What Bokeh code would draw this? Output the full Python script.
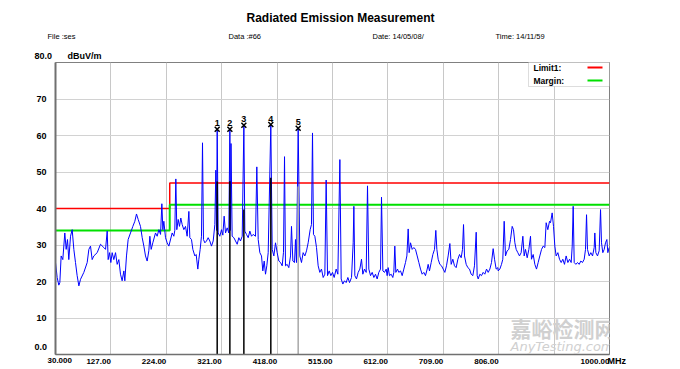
from bokeh.plotting import figure
from bokeh.models import Range1d, FixedTicker, Label, BoxAnnotation, ColumnDataSource
from bokeh.embed import file_html
from bokeh.resources import INLINE
from bokeh.core.properties import value

# ---------------- data ----------------
title_text = "Radiated Emission Measurement"
header_texts = ["File :ses", "Data :#66", "Date: 14/05/08/", "Time: 14/11/59"]
y_unit = "dBuV/m"
x_unit = "MHz"

x_ticks = [30, 127, 224, 321, 418, 515, 612, 709, 806, 903, 1000]
x_tick_labels = ["", "127.00", "224.00", "321.00", "418.00", "515.00",
                 "612.00", "709.00", "806.00", "", "1000.00"]
x_first_label = "30.000"
y_ticks = [10, 20, 30, 40, 50, 60, 70]
y_tick_labels = ["10", "20", "30", "40", "50", "60", "70"]
y_bottom_label = "0.0"
y_top_label = "80.0"

freq = [
    30.0, 32.9, 35.8, 37.6, 39.9, 42.8, 46.3, 48.7, 51.0, 53.3, 56.3, 59.2, 62.1, 65.0, 67.9,
    70.9, 73.8, 79.6, 85.5, 88.4, 91.3, 94.2, 97.1, 103.0, 108.8, 114.6, 117.6, 120.5, 122.2,
    124.6, 126.9, 129.2, 132.1, 135.1, 138.0, 140.9, 143.8, 146.7, 149.7, 151.4, 154.3, 157.2,
    161.3, 165.4, 168.9, 171.8, 174.8, 178.8, 181.8, 184.7, 187.6, 190.5, 193.4, 195.2, 197.5,
    200.4, 205.1, 208.0, 211.0, 213.9, 216.2, 218.0, 219.7, 222.6, 225.5, 228.5,
    234.3, 237.2, 238.9, 240.7, 242.4, 244.8, 247.1, 249.4, 251.8, 254.7, 257.6, 260.5, 263.5,
    265.2, 268.1, 270.5, 274.0, 276.3, 279.2, 281.0, 283.3, 285.6, 287.4, 289.1, 291.5, 294.4,
    297.3, 300.2, 303.1, 306.1, 309.0, 310.7, 311.9, 313.1, 314.8, 317.7, 320.7, 323.0, 325.3,
    327.7, 330.6, 333.5, 335.3, 336.4, 337.3, 339.3, 342.3, 345.2, 348.1, 351.0, 353.9, 356.9,
    359.8, 361.5, 364.4, 367.4, 370.3, 373.2, 376.1, 380.2, 382.5, 384.9, 387.8, 390.7, 393.0,
    395.4, 397.7, 400.0, 402.4, 407.0, 409.4, 412.3, 415.2, 418.1, 421.1,
    424.0, 426.9, 429.2, 431.0, 432.7, 435.6, 438.5, 441.5, 443.2, 445.6, 448.5, 450.2, 452.0,
    454.9, 457.8, 460.7, 463.6, 466.6, 469.5, 472.4, 475.9, 478.2, 480.0, 481.7, 484.1, 487.0,
    489.9, 492.8, 495.7, 498.7, 501.6, 503.9, 506.3, 509.2, 512.1, 515.0, 517.9, 521.4, 524.4,
    527.9, 530.2, 533.1, 536.0, 538.9, 541.9, 544.8, 548.3, 551.2, 552.4, 554.1, 557.0, 560.0,
    562.9, 565.8, 568.1, 571.0, 574.0, 576.3, 578.6, 581.6, 584.5, 587.4, 590.3, 593.2, 596.1,
    599.1, 600.8, 603.2, 606.1, 609.0,
    610.7, 612.5, 614.8, 617.7, 620.6, 622.4, 624.1, 625.9, 628.8, 631.1, 634.1, 637.0, 639.9,
    642.8, 645.2, 647.5, 649.2, 651.6, 654.5, 657.4, 660.3, 663.3, 666.2, 669.1, 672.0, 674.9,
    677.8, 680.8, 682.5, 684.8, 687.8, 690.7, 693.6, 695.9, 697.7, 700.0, 702.9, 705.9, 708.8,
    711.7, 714.6, 717.5, 720.5, 722.8, 725.7, 728.6, 731.5, 734.5, 737.4, 740.3, 742.6, 744.4,
    746.1, 749.1, 752.0, 754.9, 757.8, 760.7, 763.6, 766.6, 768.3, 770.1, 773.0, 775.9, 778.8,
    781.7, 784.7, 787.6, 790.5, 793.4, 796.3, 798.7, 801.6, 804.5,
    805.1, 808.0, 810.9, 813.2, 815.6, 817.9, 820.8, 823.7, 826.7, 829.6, 831.9, 834.3, 836.6,
    839.5, 842.4, 845.3, 848.3, 850.6, 852.9, 855.9, 858.8, 861.7, 863.4, 866.4, 869.3, 872.2,
    875.1, 878.0, 881.0, 883.9, 886.8, 889.1, 892.0, 895.0, 896.7, 899.6, 902.0, 904.3, 906.6,
    909.6, 912.5, 915.4, 918.3, 921.2, 924.1, 927.1, 930.0, 932.9, 934.7, 936.4, 938.2, 941.1,
    944.0, 946.9, 949.8, 952.7, 955.7, 958.0, 959.8, 961.5, 964.4, 967.3, 970.3, 973.2, 974.3,
    976.1, 979.0, 981.9, 984.3, 986.0, 988.3, 990.7, 993.0, 995.4, 997.1, 999.4,
]
level = [
    25.2, 21.1, 19.0, 19.7, 27.0, 26.0, 33.3, 28.8, 31.5, 26.0, 32.4, 34.2, 28.8, 25.2, 21.6,
    18.8, 20.6, 22.5, 25.2, 28.8, 29.7, 26.0, 27.0, 27.9, 30.2, 29.3, 28.8, 33.8, 26.0,
    27.9, 25.2, 27.9, 26.0, 27.9, 24.7, 26.0, 22.0, 20.2, 22.9, 20.2, 27.0, 31.5,
    33.3, 35.1, 36.5, 38.5, 37.0, 35.1, 32.0, 29.7, 27.0, 25.6, 28.4, 32.4, 28.8,
    30.6, 33.3, 32.4, 34.2, 32.9, 41.3, 34.2, 36.5, 32.0, 30.6, 29.7,
    33.3, 32.4, 34.0, 48.1, 34.2, 37.0, 35.1, 37.4, 35.6, 34.2, 35.1, 32.4, 39.2,
    32.0, 31.5, 28.8, 27.0, 27.4, 23.4, 26.1, 28.8, 32.4, 58.0, 31.5, 30.6, 31.1,
    32.0, 31.1, 29.7, 31.1, 35.6, 50.5, 34.0, 61.7, 33.3, 32.4, 34.2, 32.7, 37.9,
    33.3, 34.7, 33.3, 61.7, 34.0, 57.8, 32.4, 32.0, 31.1, 30.2, 32.0, 31.1, 32.4,
    62.8, 33.8, 32.9, 32.0, 33.8, 32.4, 32.9, 32.4, 51.4, 31.5, 27.9, 27.0, 22.9,
    25.6, 22.0, 24.3, 27.9, 63.0, 28.8, 27.0, 30.6, 27.9, 25.6,
    25.2, 24.3, 28.0, 54.2, 24.3, 24.7, 23.8, 27.0, 35.1, 25.6, 25.2, 31.5, 25.2,
    62.0, 27.0, 25.2, 27.9, 27.0, 28.4, 30.6, 34.2, 35.6, 60.7, 32.9, 32.4, 29.3,
    24.3, 22.5, 23.4, 21.1, 22.0, 47.8, 21.6, 22.9, 21.6, 22.5, 21.1, 23.4, 22.0,
    53.4, 20.7, 19.3, 20.2, 19.7, 21.1, 19.7, 21.1, 30.6, 40.6, 21.6, 20.7, 22.5,
    23.4, 26.1, 22.0, 23.4, 22.5, 46.2, 23.4, 21.6, 22.5, 21.1, 22.0, 20.7, 22.5,
    23.4, 43.1, 22.9, 22.5, 23.4,
    21.6, 23.8, 21.6, 22.0, 21.1, 22.5, 29.7, 22.5, 23.4, 22.5, 22.9, 21.6, 23.4,
    25.2, 27.0, 34.4, 27.9, 30.6, 28.8, 29.3, 28.8, 27.0, 25.2, 23.4, 22.0, 22.5,
    21.6, 23.4, 24.7, 22.9, 25.2, 27.4, 28.8, 34.0, 28.8, 26.1, 24.7, 24.3, 23.4,
    22.5, 24.3, 27.0, 30.4, 24.7, 26.1, 24.3, 23.8, 26.1, 27.4, 26.5, 28.8, 35.6,
    27.0, 24.7, 23.8, 23.4, 22.0, 21.6, 24.3, 33.5, 21.6, 20.7, 22.0, 21.6, 22.5,
    22.0, 23.4, 22.5, 23.4, 25.2, 29.0, 26.1, 23.4, 23.8,
    22.9, 23.4, 24.7, 26.1, 36.5, 27.0, 28.4, 28.8, 31.5, 35.1, 34.2, 30.6, 28.8,
    27.9, 27.0, 27.9, 32.4, 27.0, 28.8, 26.5, 28.8, 32.4, 26.1, 27.4, 24.7, 23.4,
    25.2, 27.0, 28.8, 29.7, 29.3, 36.1, 34.2, 36.5, 36.1, 38.8, 35.1, 29.7, 27.0,
    27.9, 26.1, 25.2, 26.1, 24.7, 27.0, 25.2, 26.1, 25.2, 29.7, 40.6, 25.2, 24.7,
    25.2, 24.7, 25.6, 25.2, 26.1, 28.8, 38.3, 28.8, 27.0, 27.9, 27.0, 29.3, 33.3,
    27.9, 27.0, 28.4, 39.7, 30.6, 27.9, 28.8, 30.6, 31.5, 27.9, 29.3,
]

limit_freq = [30, 230, 230, 1000]
limit_level = [40, 40, 47, 47]
margin_level = [34, 34, 41, 41]
legend_names = ["Limit1:", "Margin:"]

marker_ids = ["1", "2", "3", "4", "5"]
marker_freq = [313.1, 335.3, 359.8, 407.0, 454.9]
marker_level = [61.7, 61.7, 62.8, 63.0, 62.0]
qp_level = [47.4, 47.5, 39.7, 48.4, 46.0]
qp_color = ["black", "black", "black", "black", "#A8A8A8"]

watermark_cn = "嘉峪检测网"
watermark_en = "AnyTesting.com"

# ---------------- figure ----------------
FONT = "Liberation Sans"
X0, X1, Y0, Y1 = 30, 1000, 0, 80
p = figure(width=680, height=369, x_range=Range1d(X0, X1), y_range=Range1d(Y0, Y1),
           title=None, output_backend="svg", toolbar_location=None,
           min_border_left=55, min_border_right=71, min_border_top=62, min_border_bottom=13,
           background_fill_color="white", border_fill_color="white")
p.outline_line_color = "#808080"
p.outline_line_width = 1

p.xaxis.ticker = FixedTicker(ticks=x_ticks)
p.xaxis.major_label_overrides = {t: l for t, l in zip(x_ticks, x_tick_labels)}
p.yaxis.ticker = FixedTicker(ticks=y_ticks)
p.yaxis.major_label_overrides = {t: l for t, l in zip(y_ticks, y_tick_labels)}
for ax in (p.xaxis[0], p.yaxis[0]):
    ax.major_tick_line_color = None
    ax.minor_tick_line_color = None
    ax.major_tick_out = 0
    ax.major_tick_in = 0
    ax.minor_tick_out = 0
    ax.axis_line_color = "#707070"
    ax.major_label_text_font = FONT
    ax.major_label_text_font_style = "bold"
    ax.major_label_text_color = "black"
p.xaxis.major_label_text_font_size = "8px"
p.yaxis.major_label_text_font_size = "9px"
p.yaxis.axis_line_width = 2
p.xaxis.axis_line_width = 1.5
p.yaxis.major_label_standoff = 9
# tiny positive angle -> labels right-aligned on their gridline, as in the reference
p.xaxis.major_label_orientation = 0.0001
p.xaxis.major_label_standoff = 7

p.xgrid.ticker = FixedTicker(ticks=x_ticks)
p.ygrid.ticker = FixedTicker(ticks=y_ticks)
p.xgrid.grid_line_color = "#C8C8C8"
p.ygrid.grid_line_color = "#D2D2D2"

# limit and margin lines
p.line(limit_freq, limit_level, line_color="#FF0000", line_width=1.5)
p.line(limit_freq, margin_level, line_color="#00E000", line_width=2)

# measured trace
p.line(freq, level, line_color="#0000FF", line_width=1)

# quasi-peak lines
qsrc = ColumnDataSource(dict(x=marker_freq, y0=[0] * len(marker_freq), y1=qp_level, c=qp_color))
p.segment(x0="x", y0="y0", x1="x", y1="y1", source=qsrc, line_color="c", line_width=1.5)

# markers
msrc = ColumnDataSource(dict(x=marker_freq, y=marker_level, t=marker_ids))
p.scatter(x="x", y="y", source=msrc, marker="x", size=7, line_color="black", line_width=1.5)
p.text(x="x", y="y", text="t", source=msrc, text_font=value(FONT), text_font_style="bold",
       text_font_size="9px", text_align="center", text_baseline="bottom", y_offset=-3,
       text_color="black")


# ---------------- texts ----------------
def side_label(side, text, x, y, dx, dy, size="9px", style="normal", align="left", font=FONT):
    # placed in a side panel (not clipped), anchored at a data corner + pixel offset
    p.add_layout(Label(x=x, y=y, x_offset=dx, y_offset=dy, text=text,
                       text_font=font, text_font_size=size, text_font_style=style,
                       text_align=align, text_baseline="middle", text_color="black"), side)


side_label("above", title_text, X0, Y1, 285, 45, size="12px", style="bold", align="center")
for txt, dx in zip(header_texts, [-8, 173, 317, 440]):
    side_label("above", txt, X0, Y1, dx, 26, size="7.5px")
side_label("above", y_unit, X0, Y1, 12, 7, style="bold")
side_label("left", y_top_label, X0, Y1, -21, 7, style="bold")
side_label("left", y_bottom_label, X0, Y0, -21, 8, style="bold")
side_label("right", x_unit, X1, Y0, -2, -6, style="bold")
side_label("right", x_first_label, X0, Y0, -8, -6, size="8px", style="bold")


def frame_label(text, sx, sy, size="8.5px", style="normal", color="black", font=FONT):
    p.add_layout(Label(x=sx, y=sy, x_units="screen", y_units="screen", text=text,
                       text_font=font, text_font_size=size, text_font_style=style,
                       text_align="left", text_baseline="middle", text_color=color))


def frame_box(l, r, b, t, fill, line=None):
    p.add_layout(BoxAnnotation(left=l, right=r, bottom=b, top=t, left_units="screen",
                               right_units="screen", top_units="screen", bottom_units="screen",
                               fill_color=fill, fill_alpha=1, line_color=line, line_width=1))


# legend box (frame-relative pixels)
frame_box(473, 554, 268, 294, "white", "#909090")
frame_box(532, 547, 286, 288, "#FF0000")
frame_box(532, 547, 273, 275, "#00E000")
frame_label(legend_names[0], 478, 287, style="bold")
frame_label(legend_names[1], 478, 274, style="bold")

# watermark
frame_label(watermark_cn, 455, 27, size="21px", style="bold", color="#D0D0D0", font="Noto Sans CJK SC")
frame_label(watermark_en, 455, 8, size="13px", style="italic", color="#D0D0D0", font="DejaVu Sans")

open("out.html", "w").write(file_html(p, INLINE))
